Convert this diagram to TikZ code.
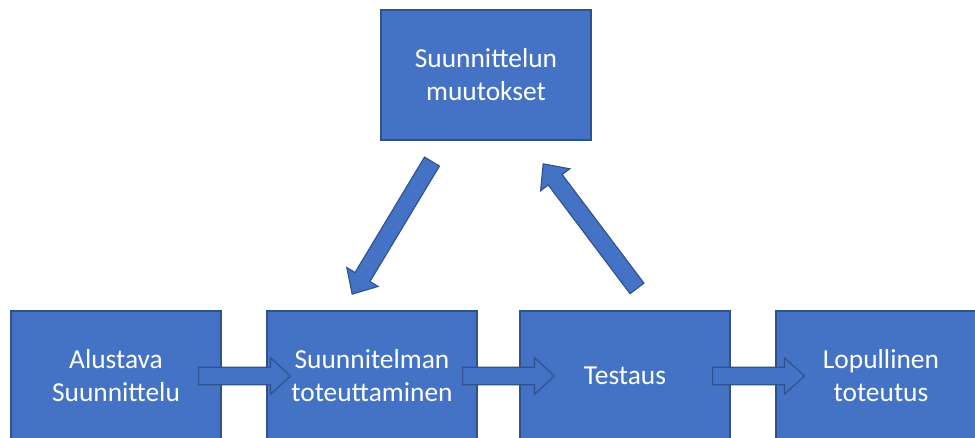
\documentclass[tikz,border=0pt]{standalone}
\usepackage{fontspec}
\setmainfont{Carlito}
\usetikzlibrary{calc}
\definecolor{boxblue}{HTML}{4472C4}
\definecolor{boxedge}{HTML}{2F528F}
\tikzset{
  stage/.style={draw=boxedge, line width=0.8pt, fill=boxblue, text=white,
    minimum width=5.25cm, minimum height=3.25cm, align=center, inner sep=0pt,
    font=\fontsize{19.5}{23.5}\selectfont},
  fatarrow/.style={draw=boxedge, line width=0.8pt, fill=boxblue, line join=miter}
}
% block arrow from coordinate #1 to coordinate #2
\newcommand\blockarrow[2]{%
  \path let \p1=(#1), \p2=(#2),
    \n1={atan2(\y2-\y1,\x2-\x1)}, \n2={veclen(\x2-\x1,\y2-\y1)} in
    \pgfextra{\xdef\baang{\n1}\xdef\balen{\n2}\xdef\bax{\x1}\xdef\bay{\y1}};
  \draw[fatarrow, shift={(\bax,\bay)}, rotate=\baang]
    (0pt,-6.2pt) -- (\balen-14.2pt,-6.2pt) -- (\balen-14.2pt,-13pt) -- (\balen,0pt)
    -- (\balen-14.2pt,13pt) -- (\balen-14.2pt,6.2pt) -- (0pt,6.2pt) -- cycle;
}
\begin{document}
\begin{tikzpicture}[x=0.025cm, y=-0.025cm]
  \clip (0,0) rectangle (975,438);
  \fill[white] (0,0) rectangle (975,438);
  \node[stage] (top) at (486,75) {Suunnittelun\\muutokset};
  \node[stage] (b1) at (116,376) {Alustava\\Suunnittelu};
  \node[stage] (b2) at (372,376) {Suunnitelman\\toteuttaminen};
  \node[stage] (b3) at (625,376) {Testaus};
  \node[stage] (b4) at (881,376) {Lopullinen\\toteutus};
  % arrow end points
  \coordinate (a1s) at ($(b1.east)+(-23,0)$);
  \coordinate (a1e) at ($(b2.west)+(24,0)$);
  \coordinate (a2s) at ($(b2.east)+(-15,0)$);
  \coordinate (a2e) at ($(b3.west)+(35,0)$);
  \coordinate (a3s) at ($(b3.east)+(-18,0)$);
  \coordinate (a3e) at ($(b4.west)+(29,0)$);
  \coordinate (dns) at ($(top.south)+(-54,21)$);
  \coordinate (dne) at ($(b2.north)+(-20,-16)$);
  \coordinate (ups) at ($(b3.north)+(12,-22)$);
  \coordinate (upe) at ($(top.south)+(57,23)$);
  \blockarrow{a1s}{a1e}
  \blockarrow{a2s}{a2e}
  \blockarrow{a3s}{a3e}
  \blockarrow{dns}{dne}
  \blockarrow{ups}{upe}
\end{tikzpicture}
\end{document}
